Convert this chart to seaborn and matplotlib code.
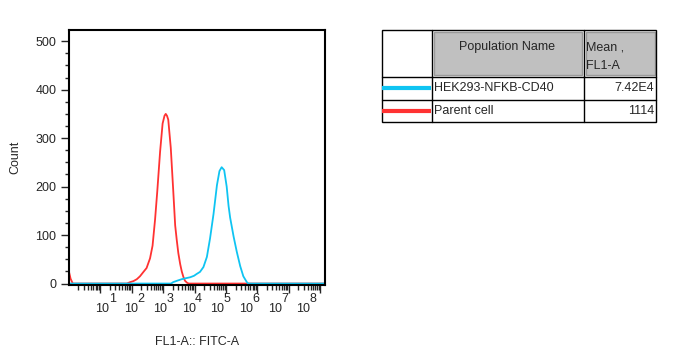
import numpy as np
import pandas as pd
import seaborn as sns
import matplotlib.pyplot as plt
from matplotlib.patches import Rectangle
from matplotlib.ticker import FixedLocator, MultipleLocator

# histogram traces, x is log10(FL1-A)
parent_x = [0.0, 0.05, 0.12, 1.84, 1.95, 2.05, 2.16, 2.26, 2.37, 2.47, 2.58, 2.66, 2.74, 2.81, 2.90,
            2.98, 3.04, 3.08, 3.12, 3.16, 3.24, 3.32, 3.38, 3.43, 3.48, 3.54, 3.59, 3.64, 3.69, 3.75, 3.81, 8.15]
parent_y = [24, 10, 0, 0, 3, 5, 9, 15, 24, 32, 52, 78, 132, 190, 272,
            330, 346, 350, 346, 338, 280, 190, 120, 90, 63, 40, 25, 14, 6, 2, 0, 0]

cd40_x = [0.0, 3.25, 3.32, 3.45, 3.59, 3.72, 3.86, 3.98, 4.07, 4.17, 4.28, 4.39, 4.49, 4.60, 4.71,
          4.79, 4.86, 4.94, 5.02, 5.08, 5.13, 5.24, 5.34, 5.45, 5.55, 5.66, 5.71, 8.15]
cd40_y = [0, 0, 3, 6, 9, 11, 13, 16, 20, 24, 34, 55, 93, 143, 203,
          232, 240, 234, 200, 160, 136, 97, 66, 36, 15, 3, 0, 0]

populations = ["HEK293-NFKB-CD40", "Parent cell"]
means = ["7.42E4", "1114"]
colors = {"HEK293-NFKB-CD40": "#0fc4f2", "Parent cell": "#ff3232"}

decades = list(range(1, 9))

sns.set_style("white")
plt.rcParams['font.family'] = ['Liberation Sans', 'DejaVu Sans']

df = pd.concat([
    pd.DataFrame({"x": parent_x, "count": parent_y, "pop": "Parent cell"}),
    pd.DataFrame({"x": cd40_x, "count": cd40_y, "pop": "HEK293-NFKB-CD40"}),
])

fig = plt.figure(figsize=(6.75, 3.61), dpi=100)
ax = fig.add_axes([69/675, 1 - 285/361, 256/675, 255/361])

sns.lineplot(data=df, x="x", y="count", hue="pop", hue_order=["Parent cell", "HEK293-NFKB-CD40"],
             palette=colors, estimator=None, sort=False, lw=1.3, legend=False, ax=ax)

ax.set_xlim(0, 8.15)
ax.set_ylim(-3, 523)

ax.set_xticks(decades)
minors = [n + np.log10(k) for n in range(0, 9) for k in range(2, 10) if n + np.log10(k) < 8.15]
ax.xaxis.set_minor_locator(FixedLocator(minors))
ax.set_xticklabels([])
ax.tick_params(axis="x", which="major", bottom=True, direction="out", length=6, width=1)
ax.tick_params(axis="x", which="minor", bottom=True, direction="out", length=3.5, width=1)

ax.set_yticks(range(0, 501, 100))
ax.yaxis.set_minor_locator(MultipleLocator(25))
ax.tick_params(axis="y", which="major", left=True, direction="out", length=6, width=1, labelsize=9, pad=3)
ax.tick_params(axis="y", which="minor", left=True, direction="out", length=3, width=1)

for s in ax.spines.values():
    s.set_color("black")
    s.set_linewidth(1.5)

ax.set_xlabel("FL1-A:: FITC-A", fontsize=9)
ax.set_ylabel("Count", fontsize=9)
ax.xaxis.set_label_coords(0.5, -0.2)
ax.yaxis.set_label_coords(-0.185, 0.5)

# decade labels, FlowJo style
for n in decades:
    cx = (102.5 + (n - 1) * 28.7 - 69) / 256
    ax.text(cx, -0.094, "10", transform=ax.transAxes, ha="center", va="center", fontsize=9)
    ax.text(cx + 10/256, -0.055, str(n), transform=ax.transAxes, ha="center", va="center", fontsize=9)

# statistics table (pixel coords)
tax = fig.add_axes([0, 0, 1, 1])
tax.set_xlim(0, 675)
tax.set_ylim(361, 0)
tax.set_axis_off()

tax.add_patch(Rectangle((433.5, 32), 148, 43, fc="#c0c0c0", ec="#9a9a9a", lw=1))
tax.add_patch(Rectangle((585.5, 32), 69, 43, fc="#c0c0c0", ec="#9a9a9a", lw=1))
tax.add_patch(Rectangle((382, 30), 274, 92, fill=False, ec="black", lw=1))
tax.plot([431.5, 431.5], [30, 122], color="black", lw=1)
tax.plot([583.5, 583.5], [30, 122], color="black", lw=1)
tax.plot([382, 656], [76.5, 76.5], color="black", lw=1)
tax.plot([382, 656], [99.5, 99.5], color="black", lw=1)

tax.text(507, 47, "Population Name", ha="center", va="center", fontsize=9)
tax.text(586, 47, "Mean ,", ha="left", va="center", fontsize=9)
tax.text(586, 66, "FL1-A", ha="left", va="center", fontsize=9)

for i, (p, m) in enumerate(zip(populations, means)):
    yy = 88 + i * 23
    tax.plot([382, 431], [yy, yy], color=colors[p], lw=3, solid_capstyle="butt")
    tax.text(434, yy, p, ha="left", va="center", fontsize=9)
    tax.text(654, yy, m, ha="right", va="center", fontsize=9)

fig.savefig("out.png", dpi=100)
